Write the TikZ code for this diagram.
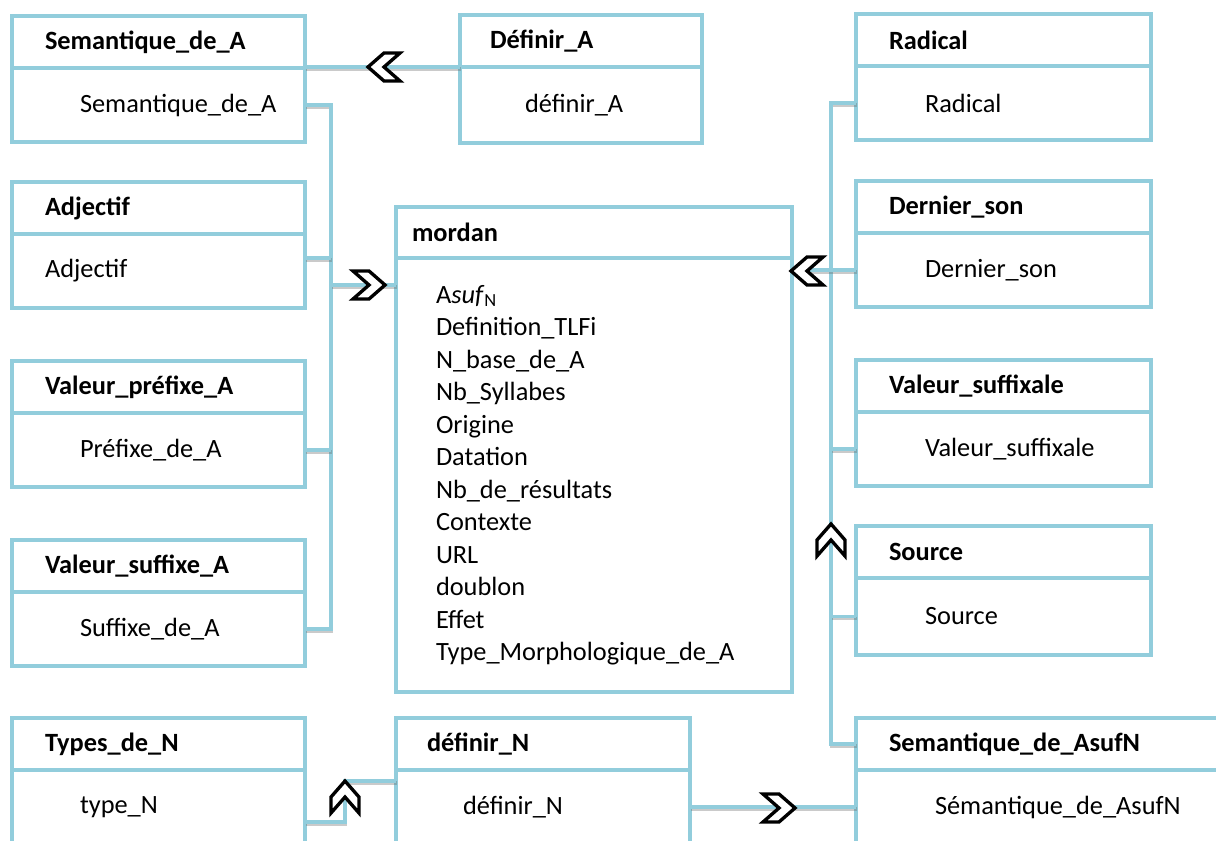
\documentclass[tikz,border=0pt]{standalone}
\usepackage{fontspec}
\setmainfont{Carlito}
\usetikzlibrary{calc}

\definecolor{bleu}{RGB}{146,205,220}
\newlength\pxl \setlength\pxl{0.02cm}
\newcommand\taille{\fontsize{15}{18.5}\selectfont}

\tikzset{
  entete/.style 2 args={draw=bleu, fill=white, line width=2pt, outer sep=0pt, anchor=north west,
    minimum height=52\pxl, text width=#1\pxl, inner xsep=0pt, align=left,
    font=\taille\bfseries, execute at begin node={\leftskip=#2\pxl}},
  corps/.style 2 args={draw=bleu, fill=white, line width=2pt, outer sep=0pt, anchor=north,
    minimum height=74\pxl, text width=#1\pxl, inner xsep=0pt, align=left,
    font=\taille, execute at begin node={\leftskip=#2\pxl}},
  lien/.style={draw=bleu, line width=2pt,
    preaction={draw=black!60, opacity=.35, line width=2pt, transform canvas={xshift=.4pt,yshift=-1pt}}},
  chevron/.pic={\draw[black, line width=1.9pt, fill=white, miter limit=10]
    (0,-14) -- (16,-14) -- (32,0) -- (16,14) -- (0,14) -- (16,0) -- cycle;},
}

\begin{document}
\begin{tikzpicture}[x=0.02cm, y=-0.02cm]
    \clip (0,0) rectangle (1216,841);
    % colonne de gauche
    \coordinate (busA) at (331,285);
    \node[entete={293}{33}] (semA) at (12,16) {Semantique\_de\_A};
    \node[corps={293}{68}] (semA-b) at (semA.south) {Semantique\_de\_A};
    \node[entete={293}{33}] (adj) at (12,182) {Adjectif};
    \node[corps={293}{33}] (adj-b) at (adj.south) {Adjectif};
    \node[entete={293}{33}] (prefA) at (12,361) {Valeur\_préfixe\_A};
    \node[corps={293}{68}] (prefA-b) at (prefA.south) {Préfixe\_de\_A};
    \node[entete={293}{33}] (sufA) at (12,540) {Valeur\_suffixe\_A};
    \node[corps={293}{68}] (sufA-b) at (sufA.south) {Suffixe\_de\_A};
    \node[entete={293}{33}] (typN) at (12,718) {Types\_de\_N};
    \node[corps={293}{68}] (typN-b) at (typN.south) {type\_N};
    % milieu
    \node[entete={242}{30}] (defA) at (460,15) {Définir\_A};
    \node[corps={242}{65}, minimum height=76\pxl] (defA-b) at (defA.south) {définir\_A};
    \node[entete={396}{16}, minimum height=51\pxl] (mordan) at (396,207) {mordan};
    \node[corps={396}{40}, minimum height=434\pxl] (mordan-b) at (mordan.south) {%
      A\textit{suf}\textsubscript{N}\\ Definition\_TLFi\\ N\_base\_de\_A\\ Nb\_Syllabes\\
      Origine\\ Datation\\ Nb\_de\_résultats\\ Contexte\\ URL\\ doublon\\ Effet\\
      Type\_Morphologique\_de\_A};
    \node[entete={294}{31}] (defN) at (396,718) {définir\_N};
    \node[corps={294}{67}] (defN-b) at (defN.south) {définir\_N};
    % colonne de droite
    \node[entete={295}{33}] (rad) at (856,14) {Radical};
    \node[corps={295}{69}] (rad-b) at (rad.south) {Radical};
    \node[entete={295}{33}] (dern) at (856,181) {Dernier\_son};
    \node[corps={295}{69}] (dern-b) at (dern.south) {Dernier\_son};
    \node[entete={295}{33}] (vsuf) at (856,360) {Valeur\_suffixale};
    \node[corps={295}{69}] (vsuf-b) at (vsuf.south) {Valeur\_suffixale};
    \node[entete={295}{33}] (src) at (856,526) {Source};
    \node[corps={295}{69}, minimum height=77\pxl] (src-b) at (src.south) {Source};
    \node[entete={400}{33}] (semN) at (856,718) {Semantique\_de\_AsufN};
    \node[corps={400}{79}] (semN-b) at (semN.south) {Sémantique\_de\_AsufN};

    % liens
    \draw[lien] (defA.south west) -- (defA.south west -| semA.east);
    \draw[lien] (semA-b.east) -- ++(26,0) |- (sufA-b.east);
    \draw[lien] ([yshift=0.26cm]adj-b.east) -- ++(26,0);
    \draw[lien] (prefA-b.east) -- ++(26,0);
    \draw[lien] (busA) -- (busA -| mordan-b.west);
    \draw[lien] (rad-b.west) -- ++(-25,0) |- (semN.west);
    \draw[lien] (mordan-b.east |- dern-b.west) -- (dern-b.west);
    \draw[lien] (vsuf-b.west) -- ++(-25,0);
    \draw[lien] (src-b.west) -- ++(-25,0);
    \draw[lien] ([yshift=-0.3cm]typN-b.east) -- ++(40,0) |- ([yshift=0.52cm]defN-b.west);
    \draw[lien] (defN-b.east) -- (semN-b.west);

    % chevrons
    \pic[rotate=180] at (400,67) {chevron};
    \pic at (353,285) {chevron};
    \pic[rotate=180] at (823,271) {chevron};
    \pic[rotate=90] at (831,556) {chevron};
    \pic[rotate=90] at (345,813) {chevron};
    \pic at (763,808) {chevron};
\end{tikzpicture}
\end{document}
